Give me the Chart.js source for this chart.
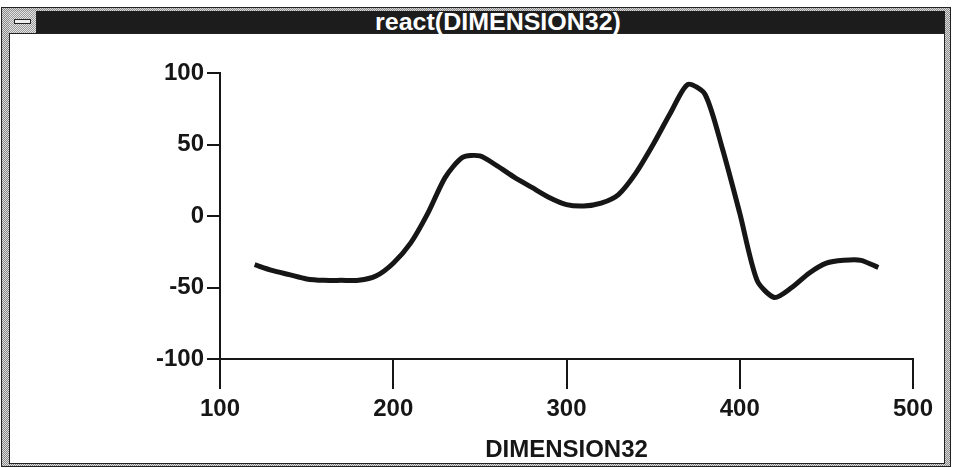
<!DOCTYPE html>
<html>
<head>
<meta charset="utf-8">
<script src="https://cdn.jsdelivr.net/npm/chart.js@4"></script>
<style>
  html, body { margin: 0; padding: 0; background: #fff; }
  #win { position: relative; width: 954px; height: 468px; overflow: hidden; }
  .frame {
    position: absolute; left: 1px; top: 7px; width: 948px; height: 458px;
    border: 1px solid #222;
    background: repeating-conic-gradient(#8a8a8a 0 25%, #dcdcdc 0 50%) 0 0 / 2px 2px;
  }
  .client {
    position: absolute; left: 9px; top: 11px; width: 934px; height: 451px;
    border: 1px solid #222; background: #fff;
  }
  .titlebar {
    position: absolute; left: 9px; top: 11px; width: 936px; height: 22px;
    background: #1c1c1c; border-bottom: 1px solid #222;
  }
  .sysmenu {
    position: absolute; left: 0; top: 0; width: 27px; height: 22px;
    background: repeating-conic-gradient(#9a9a9a 0 25%, #e4e4e4 0 50%) 0 0 / 2px 2px;
    border-right: 1px solid #222;
  }
  .sysmenu i {
    position: absolute; left: 5px; top: 8px; width: 15px; height: 3px;
    background: #eee; border: 1px solid #222;
  }
  .title {
    position: absolute; left: 350px; top: 10px; width: 296px; height: 24px;
    color: #fff; font: bold 25px "Liberation Sans", Arial, sans-serif;
    line-height: 24px; text-align: center; white-space: nowrap;
    transform: scaleY(0.92);
  }
  #chart { position: absolute; left: 0; top: 0; }
</style>
</head>
<body>
<div id="win">
  <div class="frame"></div>
  <div class="client"></div>
  <div class="titlebar"><div class="sysmenu"><i></i></div></div>
  <div class="title">react(DIMENSION32)</div>
  <canvas id="chart" width="954" height="468"></canvas>
</div>
<script>
// react response sampled along DIMENSION32
const dimension = [120, 130, 140, 150, 160, 170, 180, 190, 200, 210,
                   220, 230, 240, 250, 260, 270, 280, 290, 300, 310,
                   320, 330, 340, 350, 360, 370, 380, 390, 400, 410,
                   420, 430, 440, 450, 460, 470, 480];
const react = [-34, -38, -41, -44, -45, -45, -45, -42, -33, -19,
               2, 27, 41, 42, 35, 27, 20, 13, 8, 7,
               9, 15, 30, 50, 72, 92, 85, 47, 2, -45,
               -57, -50, -40, -33, -31, -31, -36];

const xTicks = [100, 200, 300, 400, 500];
const yTicks = [-100, -50, 0, 50, 100];

const axisFont = { family: "'Liberation Sans', Arial, sans-serif", size: 24, weight: 'bold' };
const ink = '#161616';

const points = dimension.map((d, i) => ({ x: d, y: react[i] }));

const chartOptions = {
    type: 'line',
    data: {
        datasets: [{
            data: points,
            borderColor: ink,
            borderWidth: 5,
            pointRadius: 0,
            tension: 0.25,
            fill: false
        }]
    },
    options: {
        responsive: false,
        animation: false,
        layout: { padding: { left: 120, right: 41, top: 73, bottom: 0 } },
        plugins: { legend: { display: false }, tooltip: { enabled: false } },
        scales: {
            x: {
                type: 'linear',
                min: xTicks[0],
                max: xTicks[xTicks.length - 1],
                afterBuildTicks: s => { s.ticks = xTicks.map(v => ({ value: v })); },
                afterFit: s => { s.height = 109; },
                border: { display: true, color: ink, width: 2 },
                grid: { drawOnChartArea: false, drawTicks: true, tickLength: 30, color: ink, lineWidth: 2 },
                ticks: { color: ink, font: axisFont, padding: 6, maxRotation: 0 },
                title: {
                    display: true,
                    text: 'DIMENSION32',
                    color: ink,
                    font: axisFont,
                    padding: { top: 0, bottom: 3 }
                }
            },
            y: {
                type: 'linear',
                min: yTicks[0],
                max: yTicks[yTicks.length - 1],
                afterBuildTicks: s => { s.ticks = yTicks.map(v => ({ value: v })); },
                afterFit: s => { s.width = 100; },
                border: { display: true, color: ink, width: 2 },
                grid: { drawOnChartArea: false, drawTicks: true, tickLength: 13, color: ink, lineWidth: 2 },
                ticks: { color: ink, font: axisFont, padding: 3 }
            }
        }
    }
};

const ctx = document.getElementById('chart').getContext('2d');
const reactChart = new Chart(ctx, chartOptions);
</script>
</body>
</html>
